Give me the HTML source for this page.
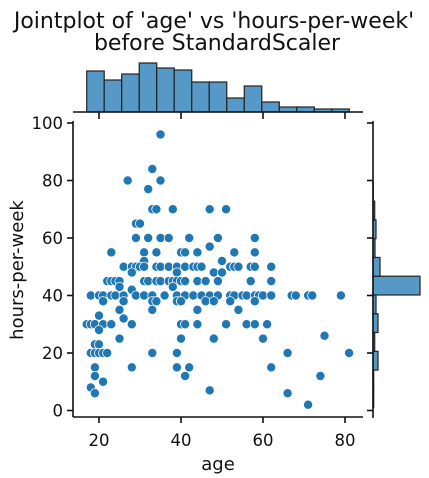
<!DOCTYPE html>
<html><head><meta charset="utf-8"><style>
html,body{margin:0;padding:0;background:#fff;}
svg{display:block;font-family:"DejaVu Sans","Liberation Sans",sans-serif;}
</style></head><body>
<svg id="chart" width="429" height="478" viewBox="0 0 429 478">
<g>
<text x="214" y="28" text-anchor="middle" font-size="22" fill="#111">Jointplot of 'age' vs 'hours-per-week'</text>
<text x="217" y="50" text-anchor="middle" font-size="22" fill="#111">before StandardScaler</text>
</g>
<g id="marks"></g>
<g id="axes"></g>
<text x="218" y="470" text-anchor="middle" font-size="18" fill="#111">age</text>
<text transform="translate(23,270) rotate(-90)" text-anchor="middle" font-size="18" fill="#111">hours-per-week</text>
</svg>
<script>
const xTicks=[20,40,60,80];
const yTicks=[0,20,40,60,80,100];
const ages=[35,33,27,35,32,33,34,38,47,51,29,30,29,32,35,37,42,49,23,31,34,40,41,44,47,53,31,50,
26,28,29,30,31,34,35,37,39,41,43,44,45,52,53,54,57,28,39,48,50,
22,23,24,25,31,32,34,35,37,38,39,40,41,44,46,49,57,25,38,28,
18,20,21,23,24,26,29,31,33,36,39,41,43,45,47,49,52,56,
21,26,33,34,39,40,46,48,52,25,33,44,54,26,20,
17,18,19,21,23,28,40,41,44,51,56,20,25,40,48,19,20,
18,19,20,21,22,33,39,19,28,39,42,19,41,21,18,19,47,
58,53,58,53,54,57,58,62,57,62,52,53,55,56,58,59,60,62,67,68,71,72,79,52,58,54,56,58,61,60,75,66,81,62,74,66,71];
const hours=[96,84,80,80,77,70,70,70,70,70,65,65,60,60,60,60,60,60,55,55,55,55,55,55,57,55,52,52,
50,50,50,50,50,50,50,50,50,50,50,50,50,50,50,50,50,48,48,48,48,
45,45,45,45,45,45,45,45,45,45,45,45,45,45,45,45,45,43,43,42,
40,40,40,40,40,40,40,40,40,40,40,40,40,40,40,40,40,40,
38,38,38,38,38,38,38,38,38,35,35,35,35,32,33,
30,30,30,30,30,30,30,30,30,30,30,28,25,25,25,23,23,
20,20,20,20,20,20,20,15,15,15,15,12,12,10,8,6,7,
60,55,55,50,50,50,50,50,45,45,40,40,40,40,40,40,40,40,40,40,40,40,40,38,38,35,30,30,30,25,26,20,20,15,12,6,2];
const ageBinStart=17, ageBinWidth=4.27;
const ageCounts=[41,32,38,49,44,42,30,30,14,26,10,5,5,3,3];
const hourBinStart=1, hourBinWidth=6.53;
const hourCounts=[0.7,0.7,5,1.7,5,3,47,7,2,3,1.7,0.3,0,0,0];

const NS="http://www.w3.org/2000/svg";
const X0=73,X1=363,Y0=417,Y1=121;
const sx=v=>17+v*4.1;
const sy=v=>410.5-v*2.875;
const marks=document.getElementById('marks');
const axes=document.getElementById('axes');
function el(tag,attrs,parent){const e=document.createElementNS(NS,tag);for(const k in attrs)e.setAttribute(k,attrs[k]);parent.appendChild(e);return e;}

// top histogram
const topBase=112, cscale=1.0;
ageCounts.forEach((c,i)=>{
  const xa=sx(ageBinStart+i*ageBinWidth), xb=sx(ageBinStart+(i+1)*ageBinWidth);
  const r=el('rect',{x:xa,y:topBase-c*cscale,width:xb-xa,height:c*cscale,fill:'#5799c6',stroke:'#222','stroke-width':1.2},marks);
  
  
});
// right histogram
const rightBase=373;
hourCounts.forEach((c,i)=>{
  if(c<=0)return;
  const ya=sy(hourBinStart+(i+1)*hourBinWidth), yb=sy(hourBinStart+i*hourBinWidth);
  const r=el('rect',{x:rightBase,y:ya,width:c*cscale,height:yb-ya,fill:'#5799c6',stroke:'#222','stroke-width':1.2},marks);
  
  
});
// scatter
ages.forEach((a,i)=>{
  const c=el('circle',{cx:sx(a),cy:sy(hours[i]),r:4.6,fill:'#1f77b4',stroke:'#fff','stroke-width':0.8},marks);
  
  
});

// axes
const ln=(x1,y1,x2,y2,w)=>el('line',{x1,y1,x2,y2,stroke:'#111','stroke-width':w||1.6},axes);
let s;
s=ln(X0,Y1,X0,Y0);
s=ln(X0,Y0,X1,Y0);
s=ln(X0,topBase,X1,topBase);
s=ln(rightBase,Y1,rightBase,Y0+1);
xTicks.forEach(t=>{
  const x=sx(t);
  ln(x,Y0,x,Y0+6);
  ln(x,topBase,x,topBase+7);
  const tx=el('text',{x:x,y:446,'text-anchor':'middle','font-size':16.5,fill:'#111'},axes);
  tx.textContent=t;
  
  
});
yTicks.forEach(t=>{
  const y=sy(t);
  ln(X0-6,y,X0,y);
  ln(rightBase-6,y,rightBase,y);
  const tx=el('text',{x:63,y:y+6,'text-anchor':'end','font-size':16.5,fill:'#111'},axes);
  tx.textContent=t;
  
  
});
</script>
</body></html>
